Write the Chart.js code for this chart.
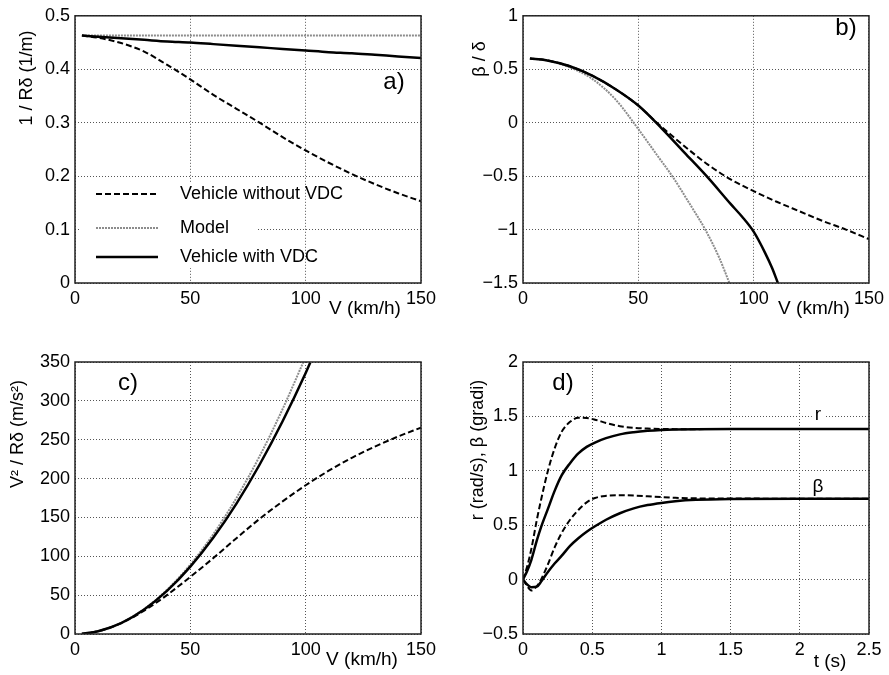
<!DOCTYPE html>
<html>
<head>
<meta charset="utf-8">
<title>Vehicle with / without VDC</title>
<script src="https://cdn.jsdelivr.net/npm/chart.js@4.4.0/dist/chart.umd.min.js"></script>
<style>
  body { margin: 0; background: #fff; }
  #wrap { position: relative; width: 889px; height: 675px; }
  canvas { position: absolute; }
</style>
</head>
<body>
<div id="wrap">
  <canvas id="chartA" width="445" height="330" style="left:0;top:0"></canvas>
  <canvas id="chartB" width="444" height="330" style="left:445px;top:0"></canvas>
  <canvas id="chartC" width="445" height="345" style="left:0;top:330px"></canvas>
  <canvas id="chartD" width="444" height="345" style="left:445px;top:330px"></canvas>
</div>
<script>
// ---- a) 1 / R delta vs V ----
const speedA = [3, 10, 20, 30, 40, 50, 60, 70, 80, 90, 100, 110, 120, 130, 140, 150];
const aNoVdc = [0.463, 0.459, 0.449, 0.433, 0.408, 0.381, 0.352, 0.326, 0.300, 0.273, 0.248, 0.225, 0.204, 0.185, 0.168, 0.153];
const aModel = [0.463, 0.463, 0.463, 0.463, 0.463, 0.463, 0.463, 0.463, 0.463, 0.463, 0.463, 0.463, 0.463, 0.463, 0.463, 0.463];
const aVdc = [0.463, 0.461, 0.458, 0.455, 0.452, 0.450, 0.447, 0.444, 0.441, 0.438, 0.435, 0.432, 0.430, 0.427, 0.424, 0.421];

// ---- b) beta / delta vs V ----
const speedB = [3, 10, 20, 30, 40, 50, 58, 65, 70, 80, 90, 100, 110, 120, 130, 140, 150];
const bNoVdc = [0.6, 0.585, 0.53, 0.44, 0.315, 0.16, 0.0, -0.13, -0.22, -0.39, -0.53, -0.64, -0.74, -0.83, -0.92, -1.0, -1.09];
const speedModelB = [3, 10, 20, 30, 40, 50, 58, 65, 72, 79, 85, 89.5];
const bModel = [0.6, 0.585, 0.52, 0.41, 0.22, -0.06, -0.3, -0.51, -0.75, -1.0, -1.26, -1.5];
const speedVdcB = [3, 10, 20, 30, 40, 50, 60, 70, 80, 90, 95, 100, 105, 108, 110.5];
const bVdc = [0.6, 0.585, 0.53, 0.44, 0.315, 0.16, -0.05, -0.28, -0.51, -0.76, -0.88, -1.02, -1.22, -1.36, -1.5];

// ---- c) V^2 / R delta vs V ----
const speedC = [3, 10, 20, 30, 40, 50, 60, 70, 80, 90, 100, 110, 120, 130, 140, 150];
const cNoVdc = [0.3, 3.5, 13.9, 30.1, 50.4, 73.5, 97.8, 123.3, 148.1, 170.6, 191.4, 210.1, 226.7, 241.2, 254.0, 265.6];
const speedModelC = [3, 10, 20, 30, 40, 50, 60, 70, 80, 90, 99];
const cModel = [0.3, 3.6, 14.3, 32.2, 57.2, 89.3, 128.6, 175.1, 228.6, 289.4, 350];
const speedVdcC = [3, 10, 20, 30, 40, 50, 60, 70, 80, 90, 100, 102];
const cVdc = [0.3, 3.6, 14.1, 31.6, 55.8, 86.7, 124.1, 167.8, 217.8, 273.8, 335.9, 349.5];

// ---- d) step response r, beta vs t ----
const timeD = [0, 0.03, 0.06, 0.1, 0.13, 0.18, 0.23, 0.28, 0.34, 0.4, 0.46, 0.52, 0.6, 0.7, 0.8, 0.9, 1.0, 1.1, 1.25, 1.5, 2.0, 2.5];
const rNoVdc = [0, 0.12, 0.28, 0.55, 0.73, 1.0, 1.21, 1.36, 1.45, 1.487, 1.485, 1.47, 1.44, 1.41, 1.395, 1.388, 1.385, 1.383, 1.383, 1.385, 1.385, 1.385];
const rVdc = [0, 0.08, 0.18, 0.36, 0.48, 0.65, 0.82, 0.96, 1.07, 1.16, 1.22, 1.26, 1.3, 1.335, 1.355, 1.368, 1.376, 1.38, 1.383, 1.385, 1.385, 1.385];
const betaNoVdc = [0, -0.06, -0.1, -0.06, 0.0, 0.14, 0.3, 0.43, 0.55, 0.64, 0.71, 0.75, 0.77, 0.776, 0.773, 0.766, 0.758, 0.752, 0.747, 0.745, 0.744, 0.744];
const betaVdc = [0, -0.045, -0.07, -0.065, -0.02, 0.07, 0.15, 0.22, 0.31, 0.38, 0.44, 0.49, 0.55, 0.61, 0.655, 0.685, 0.705, 0.72, 0.733, 0.741, 0.744, 0.744];

const legendLabels = ['Vehicle without VDC', 'Model', 'Vehicle with VDC'];

const FONT = '"Liberation Sans", Arial, Helvetica, sans-serif';

// stili linee
const dashed = { borderColor: '#000', borderDash: [6, 3], borderWidth: 2 };
const dotted = { borderColor: '#8c8c8c', borderDash: [2, 1], borderWidth: 2 };
const solid = { borderColor: '#000', borderDash: [], borderWidth: 2.5 };

function toPoints(xs, ys) {
    return xs.map((x, i) => ({ x: x, y: ys[i] }));
}

function lineSet(label, xs, ys, style) {
    return Object.assign({
        label: label,
        data: toPoints(xs, ys),
        pointRadius: 0,
        fill: false,
        cubicInterpolationMode: 'monotone'
    }, style);
}

function fmt(v) {
    const s = String(Math.round(v * 100) / 100);
    return s.replace('-', '\u2212');
}

function axis(min, max, step, isY, size) {
    return {
        type: 'linear',
        min: min,
        max: max,
        ticks: {
            stepSize: step,
            color: '#000',
            font: { family: FONT, size: 18 },
            padding: isY ? 5 : 5,
            maxRotation: 0,
            autoSkip: false,
            callback: fmt
        },
        grid: { color: '#555', lineWidth: 1, drawTicks: false },
        border: { display: false, dash: [1, 2] },
        afterFit: function(scale) {
            if (isY) scale.width = size; else scale.height = size;
        }
    };
}

// testo, titoli, riquadro e legenda disegnati sopra il grafico
function framePlugin(cfg) {
    return {
        id: 'frame',
        afterDatasetsDraw(chart) {
            const ctx = chart.ctx;
            const a = chart.chartArea;
            ctx.save();

            if (cfg.legend) {
                const L = cfg.legend;
                ctx.fillStyle = '#fff';
                ctx.fillRect(L.x, L.y, L.w, L.h);
                const styles = [dashed, dotted, solid];
                L.rows.forEach((rowY, i) => {
                    const st = styles[i];
                    ctx.beginPath();
                    ctx.setLineDash(st.borderDash);
                    ctx.strokeStyle = st.borderColor;
                    ctx.lineWidth = st.borderWidth;
                    ctx.moveTo(L.lineX0, rowY);
                    ctx.lineTo(L.lineX1, rowY);
                    ctx.stroke();
                    ctx.setLineDash([]);
                    ctx.fillStyle = '#000';
                    ctx.font = '18px ' + FONT;
                    ctx.textAlign = 'left';
                    ctx.textBaseline = 'middle';
                    ctx.fillText(legendLabels[i], L.textX, rowY);
                });
            }

            (cfg.notes || []).forEach(n => {
                ctx.font = '19px ' + FONT;
                const w = ctx.measureText(n.text).width;
                if (n.bg) {
                    ctx.fillStyle = '#fff';
                    ctx.fillRect(n.x - w / 2 - 3, n.y - 9, w + 6, 18);
                }
                ctx.fillStyle = '#000';
                ctx.textAlign = 'center';
                ctx.textBaseline = 'middle';
                ctx.fillText(n.text, n.x, n.y);
            });

            // etichetta pannello
            ctx.font = '24px ' + FONT;
            ctx.fillStyle = '#000';
            ctx.textAlign = 'center';
            ctx.textBaseline = 'middle';
            ctx.fillText(cfg.label, cfg.labelX, cfg.labelY);

            // riquadro
            ctx.setLineDash([]);
            ctx.strokeStyle = '#222';
            ctx.lineWidth = 1.5;
            ctx.strokeRect(a.left, a.top, a.right - a.left, a.bottom - a.top);
            ctx.restore();
        },
        afterDraw(chart) {
            const ctx = chart.ctx;
            ctx.save();
            ctx.fillStyle = '#000';
            ctx.font = '19px ' + FONT;
            ctx.textAlign = 'center';
            ctx.textBaseline = 'middle';
            ctx.fillText(cfg.xTitle, cfg.xTitleX, cfg.xTitleY);
            ctx.font = '18px ' + FONT;
            ctx.translate(cfg.yTitleX, cfg.yTitleY);
            ctx.rotate(-Math.PI / 2);
            ctx.fillText(cfg.yTitle, 0, 0);
            ctx.restore();
        }
    };
}

function makePanel(id, datasets, scales, padding, cfg) {
    const ctx = document.getElementById(id).getContext('2d');
    return new Chart(ctx, {
        type: 'line',
        data: { datasets: datasets },
        options: {
            responsive: false,
            animation: false,
            devicePixelRatio: 1,
            layout: { padding: padding },
            plugins: { legend: { display: false }, tooltip: { enabled: false } },
            scales: scales
        },
        plugins: [framePlugin(cfg)]
    });
}

// a)
makePanel('chartA', [
    lineSet(legendLabels[2], speedA, aVdc, solid),
    lineSet(legendLabels[1], speedA, aModel, dotted),
    lineSet(legendLabels[0], speedA, aNoVdc, dashed)
], {
    x: axis(0, 150, 50, false, 47),
    y: axis(0, 0.5, 0.1, true, 75)
}, { top: 10, right: 24, left: 0, bottom: 0 }, {
    label: 'a)', labelX: 394, labelY: 82,
    xTitle: 'V (km/h)', xTitleX: 365, xTitleY: 309,
    yTitle: '1 / R\u03b4 (1/m)', yTitleX: 27, yTitleY: 78,
    legend: { x: 80, y: 183, w: 178, h: 85, lineX0: 96, lineX1: 158, textX: 180, rows: [194, 228, 257] }
});

// b)
makePanel('chartB', [
    lineSet(legendLabels[2], speedVdcB, bVdc, solid),
    lineSet(legendLabels[1], speedModelB, bModel, dotted),
    lineSet(legendLabels[0], speedB, bNoVdc, dashed)
], {
    x: axis(0, 150, 50, false, 47),
    y: axis(-1.5, 1, 0.5, true, 78)
}, { top: 11, right: 20, left: 0, bottom: 0 }, {
    label: 'b)', labelX: 401, labelY: 28,
    xTitle: 'V (km/h)', xTitleX: 369, xTitleY: 309,
    yTitle: '\u03b2 / \u03b4', yTitleX: 35, yTitleY: 59
});

// c)
makePanel('chartC', [
    lineSet(legendLabels[2], speedVdcC, cVdc, solid),
    lineSet(legendLabels[1], speedModelC, cModel, dotted),
    lineSet(legendLabels[0], speedC, cNoVdc, dashed)
], {
    x: axis(0, 150, 50, false, 41),
    y: axis(0, 350, 50, true, 75)
}, { top: 32, right: 24, left: 0, bottom: 0 }, {
    label: 'c)', labelX: 128, labelY: 53,
    xTitle: 'V (km/h)', xTitleX: 362, xTitleY: 330,
    yTitle: 'V\u00b2 / R\u03b4 (m/s\u00b2)', yTitleX: 18, yTitleY: 104
});

// d)
makePanel('chartD', [
    lineSet('r with VDC', timeD, rVdc, solid),
    lineSet('beta with VDC', timeD, betaVdc, solid),
    lineSet('r without VDC', timeD, rNoVdc, dashed),
    lineSet('beta without VDC', timeD, betaNoVdc, dashed)
], {
    x: axis(0, 2.5, 0.5, false, 41),
    y: axis(-0.5, 2, 0.5, true, 78)
}, { top: 32, right: 20, left: 0, bottom: 0 }, {
    label: 'd)', labelX: 118, labelY: 53,
    xTitle: 't (s)', xTitleX: 385, xTitleY: 332,
    yTitle: 'r (rad/s), \u03b2 (gradi)', yTitleX: 33, yTitleY: 120,
    notes: [{ text: 'r', x: 373, y: 85, bg: true }, { text: '\u03b2', x: 373, y: 157 }]
});
</script>
</body>
</html>
